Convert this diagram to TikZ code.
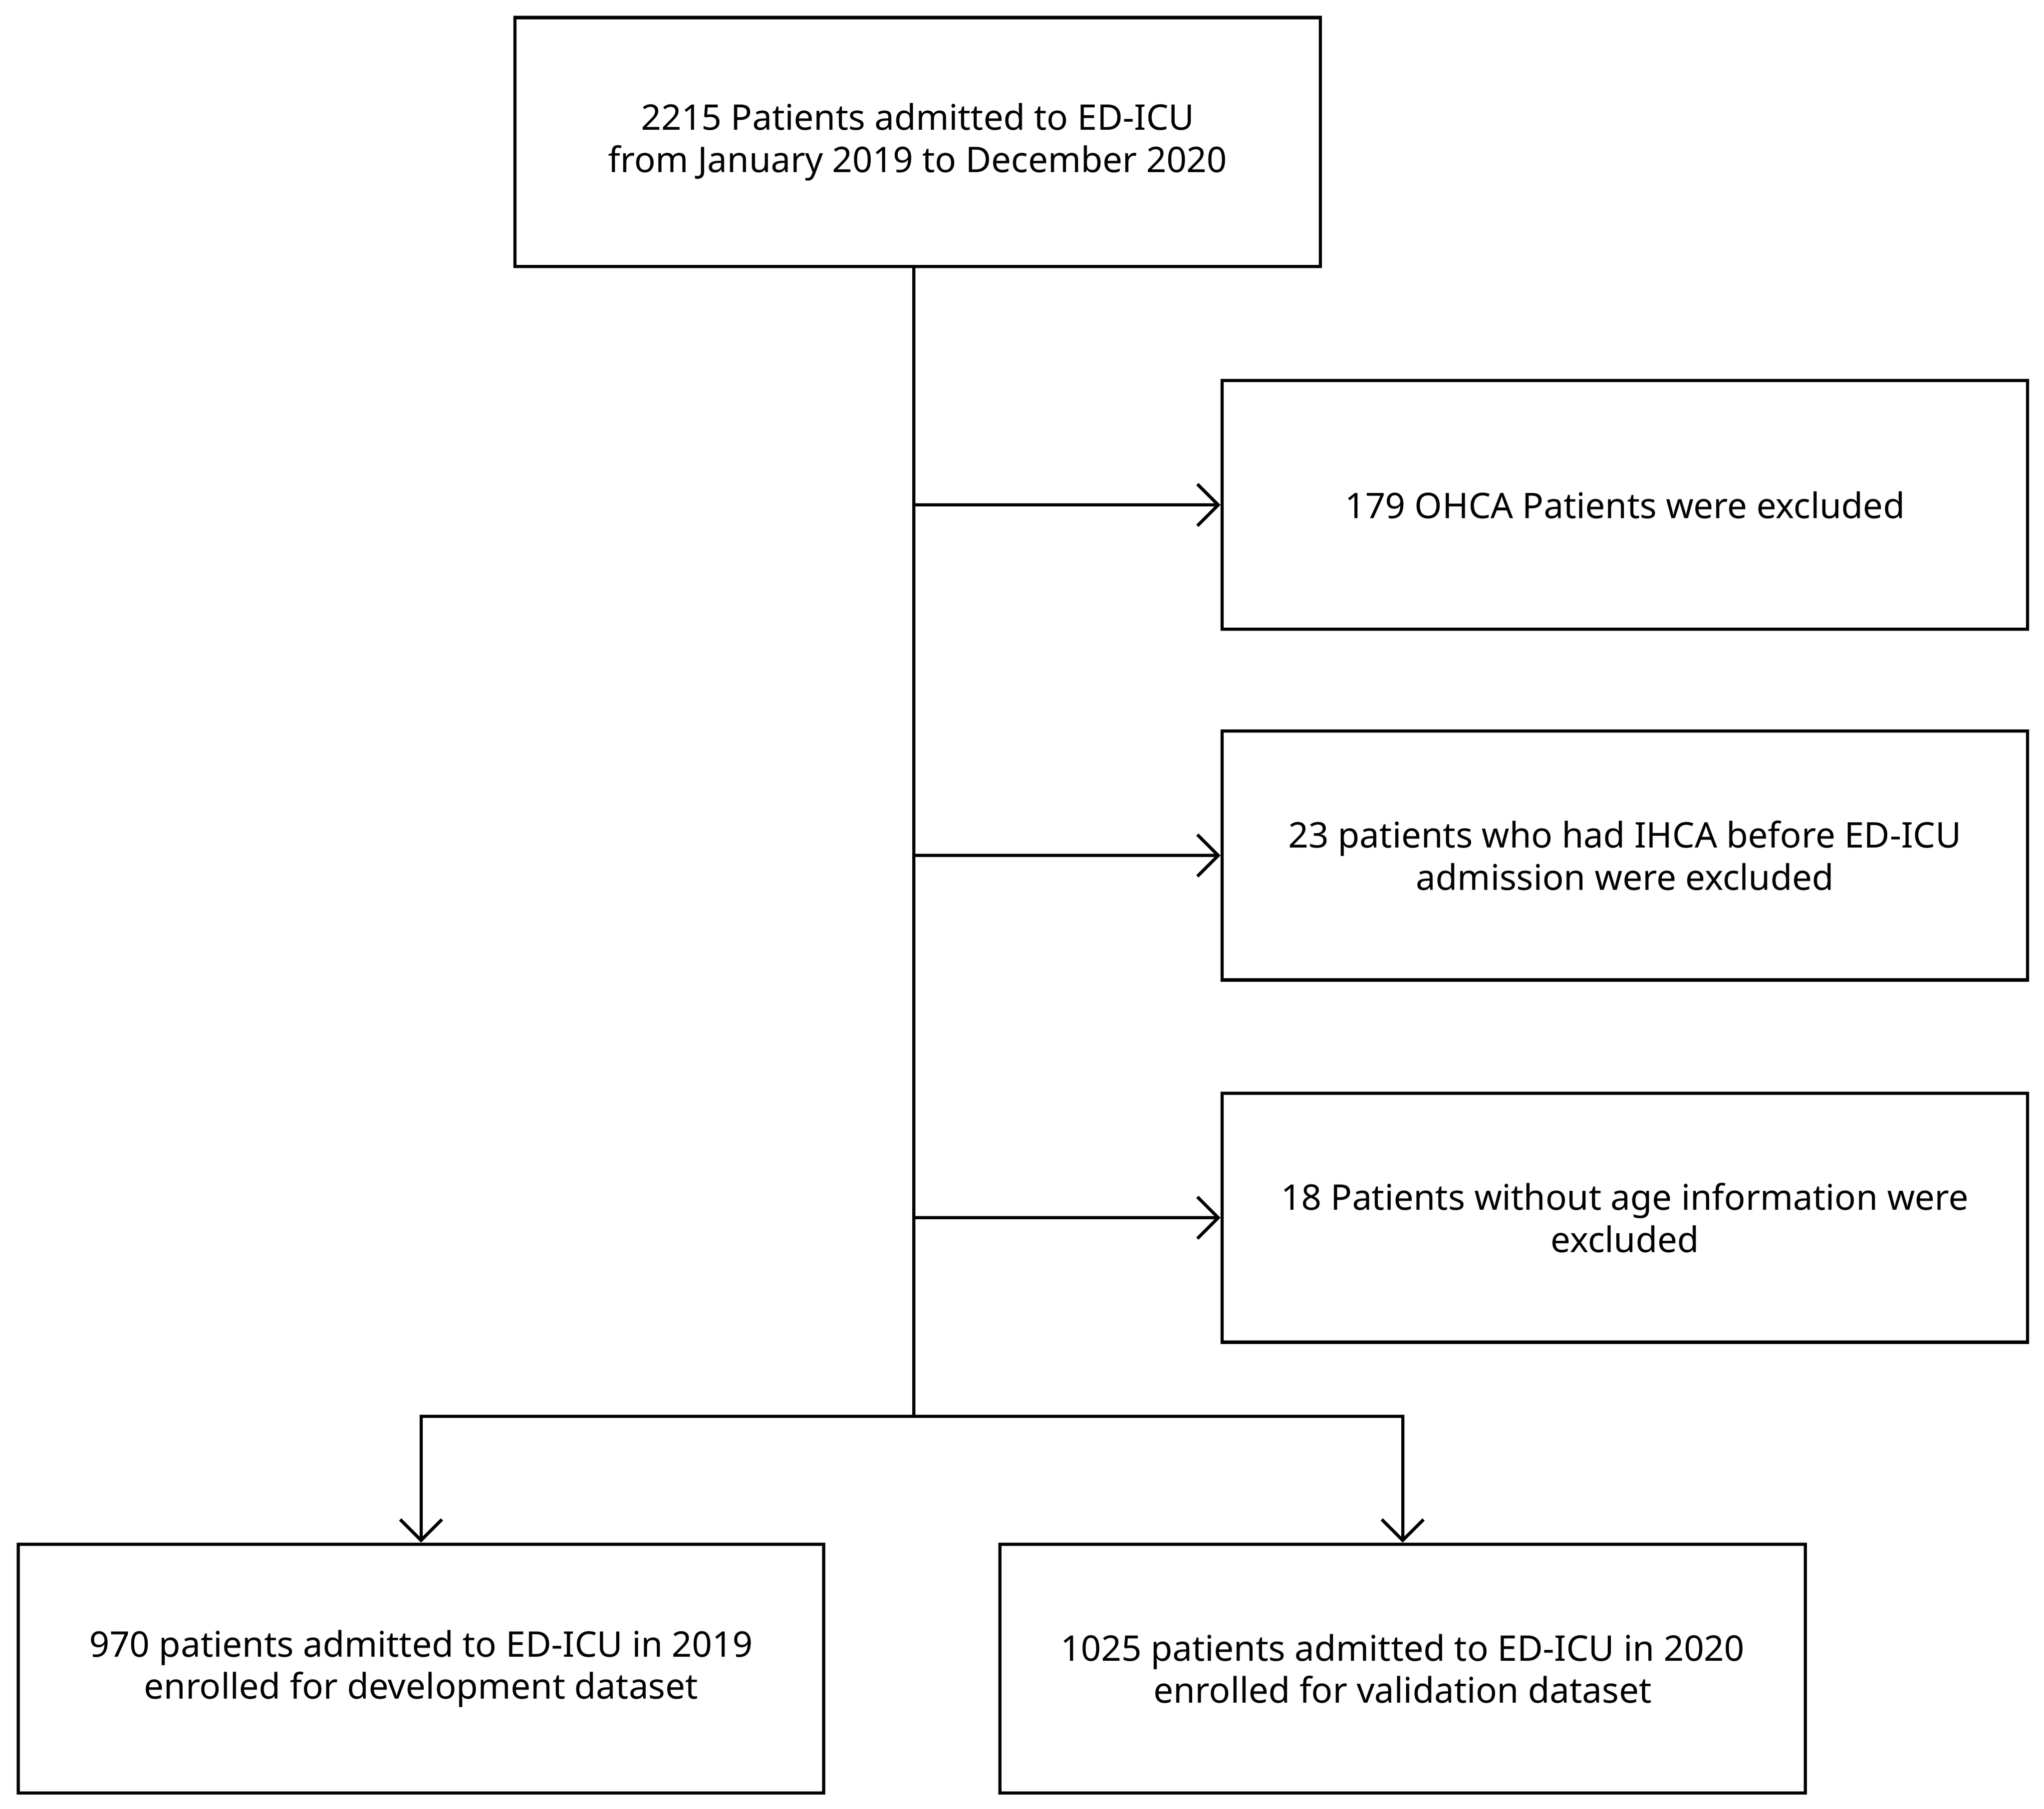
\documentclass[tikz,border=0pt]{standalone}
\usepackage{fontspec}
\setmainfont{Noto Sans}
\usetikzlibrary{arrows.meta, positioning, calc}

\begin{document}
\begin{tikzpicture}
   [
      flow box/.style={rectangle, draw, line width=0.7pt, minimum width=6.18cm,
                       minimum height=1.91cm, align=center,
                       font=\fontsize{7.7}{9.2}\selectfont},
      flow line/.style={line width=0.7pt},
      flow arrow/.style={flow line, -{Straight Barb[length=1.6mm, width=3.2mm]}}
   ]

   \useasboundingbox (0,0) rectangle (15.68,13.88);

   % =======================================================
   % Screening
   % =======================================================

   \node[flow box] (admitted) at (7.04,12.79)
      {2215 Patients admitted to ED-ICU\\from January 2019 to December 2020};

   % Exclusions
   \node[flow box] (ohca) at (12.465,10.005) {179 OHCA Patients were excluded};
   \node[flow box] (ihca) at (12.465,7.315)
      {23 patients who had IHCA before ED-ICU\\admission were excluded};
   \node[flow box] (noage) at (12.465,4.535)
      {18 Patients without age information were\\excluded};

   % =======================================================
   % Datasets
   % =======================================================

   \node[flow box] (dev) at (3.23,1.075)
      {970 patients admitted to ED-ICU in 2019\\enrolled for development dataset};
   \node[flow box] (val) at (10.76,1.075)
      {1025 patients admitted to ED-ICU in 2020\\enrolled for validation dataset};

   % Spine and branch points
   \coordinate (split) at (7.01,3.01);
   \draw[flow line] (admitted.south -| split) -- (split);
   \draw[flow arrow] (split |- ohca) -- (ohca.west);
   \draw[flow arrow] (split |- ihca) -- (ihca.west);
   \draw[flow arrow] (split |- noage) -- (noage.west);

   % Split into the two datasets
   \draw[flow arrow] (split) -| (dev.north);
   \draw[flow arrow] (split) -| (val.north);

\end{tikzpicture}
\end{document}
